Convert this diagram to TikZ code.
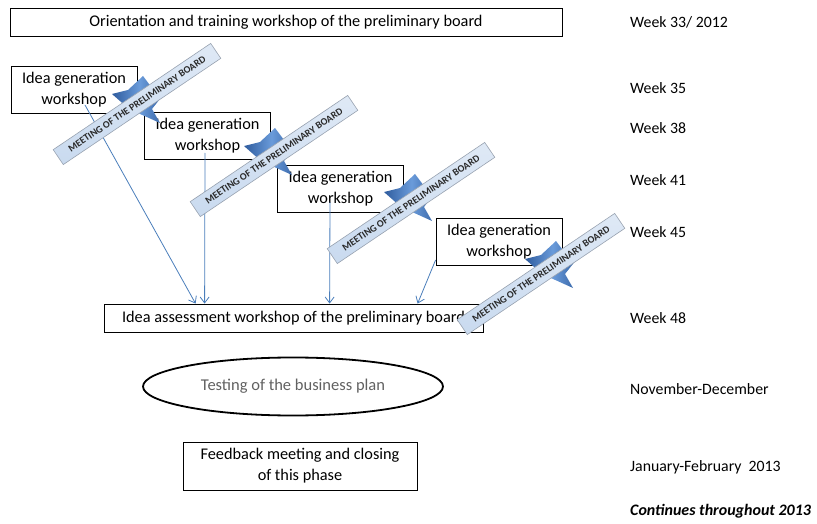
\documentclass[tikz,border=0pt]{standalone}
\usepackage{fontspec}
\setmainfont{Carlito}
\usetikzlibrary{arrows.meta,calc,shapes.geometric}
\definecolor{linkblue}{HTML}{4A7EBB}
\definecolor{stardark}{HTML}{2F5C9E}
\definecolor{starlight}{HTML}{6A9BDA}
\definecolor{bannerfill}{HTML}{C9DAEF}
\definecolor{bannerdraw}{HTML}{98A2B0}
\definecolor{bannertext}{HTML}{2A2A2A}
\begin{document}
\begin{tikzpicture}[x=1pt,y=-1pt,
  box/.style={draw=black,line width=0.8pt,rectangle,inner sep=0pt,align=center,font=\fontsize{16.3}{21}\selectfont},
  ideabox/.style={box,minimum width=126pt,minimum height=47pt},
  banner/.style={draw=bannerdraw,line width=0.6pt,top color=white!40!bannerfill,bottom color=bannerfill,
    rotate=34,minimum width=190pt,minimum height=18pt,inner sep=0pt,
    font=\fontsize{10}{10}\selectfont\bfseries,text=bannertext},
  link/.style={draw=linkblue,line width=0.8pt,-{Straight Barb[length=6pt,width=9pt]}},
  lbl/.style={anchor=west,inner sep=0pt,font=\fontsize{15.8}{18}\selectfont},
  starshape/.style={left color=stardark,right color=stardark,middle color=starlight,draw=none}
]
\useasboundingbox (0,0) rectangle (817,524);

% boxes
\node[box,minimum width=552pt,minimum height=28pt] (top) at (286,22) {Orientation and training workshop of the preliminary board};
\node[ideabox] (b1) at (74,90) {Idea generation\\workshop};
\node[ideabox] (b2) at (207.5,136) {Idea generation\\workshop};
\node[ideabox] (b3) at (340.5,188.5) {Idea generation\\workshop};
\node[ideabox] (b4) at (499,242) {Idea generation\\workshop};
\node[box,minimum width=379pt,minimum height=28pt] (assess) at (293.5,318) {Idea assessment workshop of the preliminary board};
\node[ellipse,draw=black,line width=1.8pt,minimum width=300pt,minimum height=58pt,inner sep=0pt,
  font=\fontsize{16.5}{20}\selectfont,text=black!62] (test) at (293,386.5) {Testing of the business plan};
\node[box,minimum width=234pt,minimum height=48pt] (feed) at (300,466) {Feedback meeting and closing\\of this phase};

% connectors
\coordinate (s1) at ($(b1.center)+(11,15)$);
\coordinate (s2) at ($(b2.center)+(-2.5,17)$);
\coordinate (s3) at ($(b3.center)+(-10.5,13.5)$);
\coordinate (s4) at ($(b4.west)+(0,18)$);
\coordinate (e1) at ($(assess.north west)+(92,0)$);
\coordinate (e2) at ($(assess.north west)+(101,0)$);
\coordinate (e3) at ($(assess.north west)+(226,0)$);
\coordinate (e4) at ($(assess.north west)+(314,0)$);
\draw[link] (s1) -- (e1);
\draw[link] (s2) -- (e2);
\draw[link] (s3) -- (e3);
\draw[link] (s4) -- (e4);

% stars
\foreach \cx/\cy in {140/100, 272/152, 412/198, 553/265}{
  \begin{scope}[shift={(\cx,\cy)}]
    \path[starshape] (3,-24) -- (-12,-10) -- (-28,-6) -- (-11,9) -- (20,23) -- (12,9) -- (27,-10) -- (12,-12) -- cycle;
  \end{scope}
}

% banners
\node[banner] (m1) at (137,104) {MEETING OF THE PRELIMINARY BOARD};
\node[banner] (m2) at (274,156) {MEETING OF THE PRELIMINARY BOARD};
\node[banner] (m3) at (411,203) {MEETING OF THE PRELIMINARY BOARD};
\node[banner] (m4) at (541,274) {MEETING OF THE PRELIMINARY BOARD};

% timeline labels
\node[lbl] (w33) at (630,22) {Week 33/ 2012};
\node[lbl] (w35) at (630,88) {Week 35};
\node[lbl] (w38) at (630,128) {Week 38};
\node[lbl] (w41) at (630,180) {Week 41};
\node[lbl] (w45) at (630,232) {Week 45};
\node[lbl] (w48) at (630,318) {Week 48};
\node[lbl] (nd) at (630,389) {November-December};
\node[lbl] (jf) at (630,467) {January-February\ \ 2013};
\node[lbl,font=\fontsize{16}{16}\selectfont\bfseries\itshape] (cont) at (630,511) {Continues throughout 2013};
\end{tikzpicture}
\end{document}
